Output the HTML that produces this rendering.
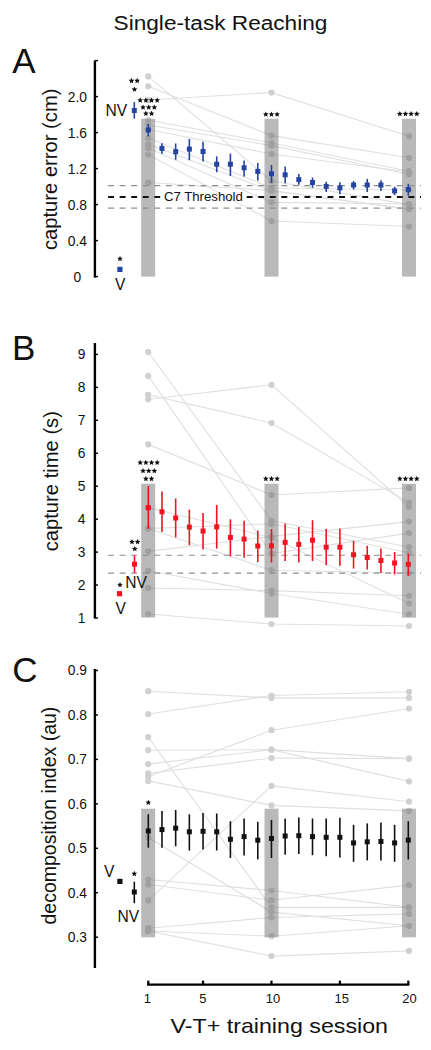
<!DOCTYPE html>
<html><head><meta charset="utf-8"><title>Single-task Reaching</title>
<style>
html,body{margin:0;padding:0;background:#fff;}
svg{display:block;}
text{font-family:"Liberation Sans",sans-serif;fill:#111;}
.ttl{font-size:20px;}
.pl{font-size:35px;}
.tk{font-size:13.8px;}
.yl{font-size:20px;}
.thr{font-size:13.2px;}
.nv{font-size:15.6px;}
.xt{font-size:13px;}
.xl{font-size:21px;}
</style></head><body>
<svg width="431" height="1050" viewBox="0 0 431 1050">
<rect width="431" height="1050" fill="#fff"/>
<text x="113.6" y="29.6" class="ttl" textLength="213.8" lengthAdjust="spacingAndGlyphs">Single-task Reaching</text>
<text x="12.3" y="73.2" class="pl">A</text>
<text x="12" y="359.8" class="pl">B</text>
<text x="12.3" y="681.6" class="pl">C</text>
<g stroke="#e0e0e0" stroke-width="1.15" fill="none"><polyline points="148.20,76.4 271.50,181 409.00,204.6"/><polyline points="148.20,86.3 271.50,135.6 409.00,157.8"/><polyline points="148.20,100 271.50,92.6 409.00,136.2"/><polyline points="148.20,120 271.50,143 409.00,171.2"/><polyline points="148.20,125 271.50,145.6 409.00,174.2"/><polyline points="148.20,129.5 271.50,154 409.00,172"/><polyline points="148.20,138 271.50,188 409.00,190"/><polyline points="148.20,144.3 271.50,191 409.00,209.2"/><polyline points="148.20,148 271.50,202.4 409.00,204"/><polyline points="148.20,154.6 271.50,221 409.00,226.5"/><polyline points="148.20,182.5 271.50,190.5 409.00,209"/></g><g fill="#d0d0d0"><circle cx="148.20" cy="76.4" r="3.1"/><circle cx="271.50" cy="181" r="3.1"/><circle cx="409.00" cy="204.6" r="3.1"/><circle cx="148.20" cy="86.3" r="3.1"/><circle cx="271.50" cy="135.6" r="3.1"/><circle cx="409.00" cy="157.8" r="3.1"/><circle cx="148.20" cy="100" r="3.1"/><circle cx="271.50" cy="92.6" r="3.1"/><circle cx="409.00" cy="136.2" r="3.1"/><circle cx="148.20" cy="120" r="3.1"/><circle cx="271.50" cy="143" r="3.1"/><circle cx="409.00" cy="171.2" r="3.1"/><circle cx="148.20" cy="125" r="3.1"/><circle cx="271.50" cy="145.6" r="3.1"/><circle cx="409.00" cy="174.2" r="3.1"/><circle cx="148.20" cy="129.5" r="3.1"/><circle cx="271.50" cy="154" r="3.1"/><circle cx="409.00" cy="172" r="3.1"/><circle cx="148.20" cy="138" r="3.1"/><circle cx="271.50" cy="188" r="3.1"/><circle cx="409.00" cy="190" r="3.1"/><circle cx="148.20" cy="144.3" r="3.1"/><circle cx="271.50" cy="191" r="3.1"/><circle cx="409.00" cy="209.2" r="3.1"/><circle cx="148.20" cy="148" r="3.1"/><circle cx="271.50" cy="202.4" r="3.1"/><circle cx="409.00" cy="204" r="3.1"/><circle cx="148.20" cy="154.6" r="3.1"/><circle cx="271.50" cy="221" r="3.1"/><circle cx="409.00" cy="226.5" r="3.1"/><circle cx="148.20" cy="182.5" r="3.1"/><circle cx="271.50" cy="190.5" r="3.1"/><circle cx="409.00" cy="209" r="3.1"/></g><g fill="#6a6a6a" fill-opacity="0.47"><rect x="141.20" y="118.7" width="14" height="157.90000000000003"/><rect x="264.50" y="118.7" width="14" height="157.90000000000003"/><rect x="402.00" y="118.7" width="14" height="157.90000000000003"/></g>
<line x1="94.9" y1="60.6" x2="94.9" y2="277.6" stroke="#000" stroke-width="2.4"/><line x1="94.9" y1="96.60" x2="98" y2="96.60" stroke="#000" stroke-width="1.4"/><line x1="94.9" y1="132.60" x2="98" y2="132.60" stroke="#000" stroke-width="1.4"/><line x1="94.9" y1="168.60" x2="98" y2="168.60" stroke="#000" stroke-width="1.4"/><line x1="94.9" y1="204.60" x2="98" y2="204.60" stroke="#000" stroke-width="1.4"/><line x1="94.9" y1="240.60" x2="98" y2="240.60" stroke="#000" stroke-width="1.4"/><line x1="94.9" y1="276.60" x2="98" y2="276.60" stroke="#000" stroke-width="1.4"/><line x1="94.9" y1="60.60" x2="98" y2="60.60" stroke="#000" stroke-width="1.4"/><text x="77.4" y="101.50" text-anchor="middle" class="tk">2.0</text><text x="77.4" y="137.50" text-anchor="middle" class="tk">1.6</text><text x="77.4" y="173.50" text-anchor="middle" class="tk">1.2</text><text x="77.4" y="209.50" text-anchor="middle" class="tk">0.8</text><text x="77.4" y="245.50" text-anchor="middle" class="tk">0.4</text><text x="77.4" y="281.50" text-anchor="middle" class="tk">0</text>
<text transform="translate(56.8,169.3) rotate(-90)" text-anchor="middle" class="yl" style="font-size:20.2px">capture error (cm)</text>
<line x1="108.1" y1="185.6" x2="421" y2="185.6" stroke="#8e8e8e" stroke-width="1.05" stroke-dasharray="5.9,5.65"/>
<line x1="108.1" y1="208.1" x2="421" y2="208.1" stroke="#8e8e8e" stroke-width="1.05" stroke-dasharray="5.9,5.65"/>
<line x1="108.1" y1="196.9" x2="160.2" y2="196.9" stroke="#111" stroke-width="2" stroke-dasharray="5.9,5.65"/>
<line x1="246.7" y1="196.9" x2="421" y2="196.9" stroke="#111" stroke-width="2" stroke-dasharray="5.9,5.65"/>
<text x="163.9" y="201.3" class="thr">C7 Threshold</text>
<line x1="148.30" y1="124.00" x2="148.30" y2="136.30" stroke="#2444a0" stroke-width="1.6"/><rect x="145.80" y="127.50" width="5" height="5" fill="#2444a0"/>
<line x1="161.98" y1="143.30" x2="161.98" y2="153.70" stroke="#2444a0" stroke-width="1.6"/><rect x="159.48" y="145.90" width="5" height="5" fill="#2444a0"/>
<line x1="175.67" y1="143.50" x2="175.67" y2="159.70" stroke="#2444a0" stroke-width="1.6"/><rect x="173.17" y="149.20" width="5" height="5" fill="#2444a0"/>
<line x1="189.35" y1="139.00" x2="189.35" y2="160.20" stroke="#2444a0" stroke-width="1.6"/><rect x="186.85" y="146.60" width="5" height="5" fill="#2444a0"/>
<line x1="203.04" y1="141.70" x2="203.04" y2="161.50" stroke="#2444a0" stroke-width="1.6"/><rect x="200.54" y="149.00" width="5" height="5" fill="#2444a0"/>
<line x1="216.72" y1="156.40" x2="216.72" y2="172.30" stroke="#2444a0" stroke-width="1.6"/><rect x="214.22" y="161.70" width="5" height="5" fill="#2444a0"/>
<line x1="230.40" y1="153.70" x2="230.40" y2="175.90" stroke="#2444a0" stroke-width="1.6"/><rect x="227.90" y="161.70" width="5" height="5" fill="#2444a0"/>
<line x1="244.09" y1="160.60" x2="244.09" y2="176.50" stroke="#2444a0" stroke-width="1.6"/><rect x="241.59" y="165.30" width="5" height="5" fill="#2444a0"/>
<line x1="257.77" y1="163.00" x2="257.77" y2="180.70" stroke="#2444a0" stroke-width="1.6"/><rect x="255.27" y="168.90" width="5" height="5" fill="#2444a0"/>
<line x1="271.46" y1="165.00" x2="271.46" y2="182.90" stroke="#2444a0" stroke-width="1.6"/><rect x="268.96" y="171.30" width="5" height="5" fill="#2444a0"/>
<line x1="285.14" y1="166.50" x2="285.14" y2="183.30" stroke="#2444a0" stroke-width="1.6"/><rect x="282.64" y="172.30" width="5" height="5" fill="#2444a0"/>
<line x1="298.82" y1="174.00" x2="298.82" y2="184.80" stroke="#2444a0" stroke-width="1.6"/><rect x="296.32" y="177.10" width="5" height="5" fill="#2444a0"/>
<line x1="312.51" y1="177.50" x2="312.51" y2="187.80" stroke="#2444a0" stroke-width="1.6"/><rect x="310.01" y="180.00" width="5" height="5" fill="#2444a0"/>
<line x1="326.19" y1="181.70" x2="326.19" y2="192.00" stroke="#2444a0" stroke-width="1.6"/><rect x="323.69" y="183.90" width="5" height="5" fill="#2444a0"/>
<line x1="339.88" y1="182.30" x2="339.88" y2="194.20" stroke="#2444a0" stroke-width="1.6"/><rect x="337.38" y="185.30" width="5" height="5" fill="#2444a0"/>
<line x1="353.56" y1="181.10" x2="353.56" y2="189.50" stroke="#2444a0" stroke-width="1.6"/><rect x="351.06" y="182.50" width="5" height="5" fill="#2444a0"/>
<line x1="367.24" y1="178.90" x2="367.24" y2="192.00" stroke="#2444a0" stroke-width="1.6"/><rect x="364.74" y="182.50" width="5" height="5" fill="#2444a0"/>
<line x1="380.93" y1="180.30" x2="380.93" y2="190.90" stroke="#2444a0" stroke-width="1.6"/><rect x="378.43" y="182.50" width="5" height="5" fill="#2444a0"/>
<line x1="394.61" y1="186.70" x2="394.61" y2="195.10" stroke="#2444a0" stroke-width="1.6"/><rect x="392.11" y="188.40" width="5" height="5" fill="#2444a0"/>
<line x1="408.30" y1="183.90" x2="408.30" y2="195.60" stroke="#2444a0" stroke-width="1.6"/><rect x="405.80" y="187.00" width="5" height="5" fill="#2444a0"/>
<line x1="134.30" y1="102.10" x2="134.30" y2="118.60" stroke="#2444a0" stroke-width="1.6"/><rect x="131.80" y="108.00" width="5" height="5" fill="#2444a0"/>
<rect x="117.30000000000001" y="266.79999999999995" width="5.2" height="5.2" fill="#2444a0"/>
<g fill="#111"><polygon points="131.48,77.80 132.29,79.63 134.28,79.84 132.79,81.18 133.21,83.14 131.48,82.14 129.74,83.14 130.16,81.18 128.67,79.84 130.66,79.63"/><polygon points="137.13,77.80 137.94,79.63 139.93,79.84 138.44,81.18 138.86,83.14 137.13,82.14 135.39,83.14 135.81,81.18 134.32,79.84 136.31,79.63"/><polygon points="134.50,86.50 135.31,88.33 137.31,88.54 135.82,89.88 136.23,91.84 134.50,90.84 132.77,91.84 133.18,89.88 131.69,88.54 133.69,88.33"/><polygon points="140.22,97.30 141.04,99.13 143.03,99.34 141.54,100.68 141.96,102.64 140.22,101.64 138.49,102.64 138.91,100.68 137.42,99.34 139.41,99.13"/><polygon points="145.88,97.30 146.69,99.13 148.68,99.34 147.19,100.68 147.61,102.64 145.88,101.64 144.14,102.64 144.56,100.68 143.07,99.34 145.06,99.13"/><polygon points="151.53,97.30 152.34,99.13 154.33,99.34 152.84,100.68 153.26,102.64 151.53,101.64 149.79,102.64 150.21,100.68 148.72,99.34 150.71,99.13"/><polygon points="157.18,97.30 157.99,99.13 159.98,99.34 158.49,100.68 158.91,102.64 157.18,101.64 155.44,102.64 155.86,100.68 154.37,99.34 156.36,99.13"/><polygon points="143.05,104.40 143.86,106.23 145.86,106.44 144.37,107.78 144.78,109.74 143.05,108.74 141.32,109.74 141.73,107.78 140.24,106.44 142.24,106.23"/><polygon points="148.70,104.40 149.51,106.23 151.51,106.44 150.02,107.78 150.43,109.74 148.70,108.74 146.97,109.74 147.38,107.78 145.89,106.44 147.89,106.23"/><polygon points="154.35,104.40 155.16,106.23 157.16,106.44 155.67,107.78 156.08,109.74 154.35,108.74 152.62,109.74 153.03,107.78 151.54,106.44 153.54,106.23"/><polygon points="145.88,110.60 146.69,112.43 148.68,112.64 147.19,113.98 147.61,115.94 145.88,114.94 144.14,115.94 144.56,113.98 143.07,112.64 145.06,112.43"/><polygon points="151.53,110.60 152.34,112.43 154.33,112.64 152.84,113.98 153.26,115.94 151.53,114.94 149.79,115.94 150.21,113.98 148.72,112.64 150.71,112.43"/><polygon points="120.00,255.80 120.81,257.63 122.81,257.84 121.32,259.18 121.73,261.14 120.00,260.14 118.27,261.14 118.68,259.18 117.19,257.84 119.19,257.63"/><polygon points="265.81,111.40 266.62,113.23 268.61,113.44 267.12,114.78 267.54,116.74 265.81,115.74 264.07,116.74 264.49,114.78 263.00,113.44 264.99,113.23"/><polygon points="271.46,111.40 272.27,113.23 274.26,113.44 272.77,114.78 273.19,116.74 271.46,115.74 269.72,116.74 270.14,114.78 268.65,113.44 270.64,113.23"/><polygon points="277.11,111.40 277.92,113.23 279.91,113.44 278.42,114.78 278.84,116.74 277.11,115.74 275.37,116.74 275.79,114.78 274.30,113.44 276.29,113.23"/><polygon points="399.82,111.00 400.64,112.83 402.63,113.04 401.14,114.38 401.55,116.34 399.82,115.34 398.09,116.34 398.50,114.38 397.02,113.04 399.01,112.83"/><polygon points="405.47,111.00 406.29,112.83 408.28,113.04 406.79,114.38 407.20,116.34 405.47,115.34 403.74,116.34 404.15,114.38 402.67,113.04 404.66,112.83"/><polygon points="411.12,111.00 411.94,112.83 413.93,113.04 412.44,114.38 412.85,116.34 411.12,115.34 409.39,116.34 409.80,114.38 408.32,113.04 410.31,112.83"/><polygon points="416.77,111.00 417.59,112.83 419.58,113.04 418.09,114.38 418.50,116.34 416.77,115.34 415.04,116.34 415.45,114.38 413.97,113.04 415.96,112.83"/></g>
<text x="105.6" y="116" class="nv">NV</text>
<text x="115" y="290" class="nv">V</text>
<g stroke="#e0e0e0" stroke-width="1.15" fill="none"><polyline points="148.20,352 271.50,520.7 409.00,547"/><polyline points="148.20,375.9 271.50,553.6 409.00,533.1"/><polyline points="148.20,399.3 271.50,384.8 409.00,507"/><polyline points="148.20,394.8 271.50,423 409.00,502.8"/><polyline points="148.20,444.4 271.50,495 409.00,487.9"/><polyline points="148.20,507.6 271.50,537.5 409.00,603.4"/><polyline points="148.20,528.5 271.50,523.8 409.00,552.8"/><polyline points="148.20,528.5 271.50,570.2 409.00,573"/><polyline points="148.20,551.4 271.50,536.4 409.00,521.6"/><polyline points="148.20,570.8 271.50,593.5 409.00,614.2"/><polyline points="148.20,588 271.50,590.6 409.00,595.8"/><polyline points="148.20,614 271.50,624 409.00,626"/></g><g fill="#d0d0d0"><circle cx="148.20" cy="352" r="3.1"/><circle cx="271.50" cy="520.7" r="3.1"/><circle cx="409.00" cy="547" r="3.1"/><circle cx="148.20" cy="375.9" r="3.1"/><circle cx="271.50" cy="553.6" r="3.1"/><circle cx="409.00" cy="533.1" r="3.1"/><circle cx="148.20" cy="399.3" r="3.1"/><circle cx="271.50" cy="384.8" r="3.1"/><circle cx="409.00" cy="507" r="3.1"/><circle cx="148.20" cy="394.8" r="3.1"/><circle cx="271.50" cy="423" r="3.1"/><circle cx="409.00" cy="502.8" r="3.1"/><circle cx="148.20" cy="444.4" r="3.1"/><circle cx="271.50" cy="495" r="3.1"/><circle cx="409.00" cy="487.9" r="3.1"/><circle cx="148.20" cy="507.6" r="3.1"/><circle cx="271.50" cy="537.5" r="3.1"/><circle cx="409.00" cy="603.4" r="3.1"/><circle cx="148.20" cy="528.5" r="3.1"/><circle cx="271.50" cy="523.8" r="3.1"/><circle cx="409.00" cy="552.8" r="3.1"/><circle cx="148.20" cy="528.5" r="3.1"/><circle cx="271.50" cy="570.2" r="3.1"/><circle cx="409.00" cy="573" r="3.1"/><circle cx="148.20" cy="551.4" r="3.1"/><circle cx="271.50" cy="536.4" r="3.1"/><circle cx="409.00" cy="521.6" r="3.1"/><circle cx="148.20" cy="570.8" r="3.1"/><circle cx="271.50" cy="593.5" r="3.1"/><circle cx="409.00" cy="614.2" r="3.1"/><circle cx="148.20" cy="588" r="3.1"/><circle cx="271.50" cy="590.6" r="3.1"/><circle cx="409.00" cy="595.8" r="3.1"/><circle cx="148.20" cy="614" r="3.1"/><circle cx="271.50" cy="624" r="3.1"/><circle cx="409.00" cy="626" r="3.1"/></g><g fill="#6a6a6a" fill-opacity="0.47"><rect x="141.20" y="483.7" width="14" height="133.90000000000003"/><rect x="264.50" y="483.7" width="14" height="133.90000000000003"/><rect x="402.00" y="483.7" width="14" height="133.90000000000003"/></g>
<line x1="94.9" y1="342.9" x2="94.9" y2="618.6" stroke="#000" stroke-width="2.4"/><line x1="94.9" y1="354.40" x2="98" y2="354.40" stroke="#000" stroke-width="1.4"/><line x1="94.9" y1="387.35" x2="98" y2="387.35" stroke="#000" stroke-width="1.4"/><line x1="94.9" y1="420.30" x2="98" y2="420.30" stroke="#000" stroke-width="1.4"/><line x1="94.9" y1="453.25" x2="98" y2="453.25" stroke="#000" stroke-width="1.4"/><line x1="94.9" y1="486.20" x2="98" y2="486.20" stroke="#000" stroke-width="1.4"/><line x1="94.9" y1="519.15" x2="98" y2="519.15" stroke="#000" stroke-width="1.4"/><line x1="94.9" y1="552.10" x2="98" y2="552.10" stroke="#000" stroke-width="1.4"/><line x1="94.9" y1="585.05" x2="98" y2="585.05" stroke="#000" stroke-width="1.4"/><line x1="94.9" y1="618.00" x2="98" y2="618.00" stroke="#000" stroke-width="1.4"/><text x="81.7" y="359.30" text-anchor="middle" class="tk">9</text><text x="81.7" y="392.25" text-anchor="middle" class="tk">8</text><text x="81.7" y="425.20" text-anchor="middle" class="tk">7</text><text x="81.7" y="458.15" text-anchor="middle" class="tk">6</text><text x="81.7" y="491.10" text-anchor="middle" class="tk">5</text><text x="81.7" y="524.05" text-anchor="middle" class="tk">4</text><text x="81.7" y="557.00" text-anchor="middle" class="tk">3</text><text x="81.7" y="589.95" text-anchor="middle" class="tk">2</text><text x="81.7" y="622.90" text-anchor="middle" class="tk">1</text>
<text transform="translate(57.5,481.2) rotate(-90)" text-anchor="middle" class="yl" style="font-size:20.2px">capture time (s)</text>
<line x1="108.1" y1="555.2" x2="421" y2="555.2" stroke="#8e8e8e" stroke-width="1.05" stroke-dasharray="5.9,5.65"/>
<line x1="108.1" y1="573.1" x2="421" y2="573.1" stroke="#8e8e8e" stroke-width="1.05" stroke-dasharray="5.9,5.65"/>
<line x1="148.30" y1="486.00" x2="148.30" y2="529.00" stroke="#ee1520" stroke-width="1.6"/><rect x="145.80" y="505.10" width="5" height="5" fill="#ee1520"/>
<line x1="161.98" y1="491.50" x2="161.98" y2="531.90" stroke="#ee1520" stroke-width="1.6"/><rect x="159.48" y="509.30" width="5" height="5" fill="#ee1520"/>
<line x1="175.67" y1="498.50" x2="175.67" y2="537.40" stroke="#ee1520" stroke-width="1.6"/><rect x="173.17" y="515.50" width="5" height="5" fill="#ee1520"/>
<line x1="189.35" y1="509.60" x2="189.35" y2="545.20" stroke="#ee1520" stroke-width="1.6"/><rect x="186.85" y="524.60" width="5" height="5" fill="#ee1520"/>
<line x1="203.04" y1="513.00" x2="203.04" y2="549.40" stroke="#ee1520" stroke-width="1.6"/><rect x="200.54" y="528.50" width="5" height="5" fill="#ee1520"/>
<line x1="216.72" y1="504.90" x2="216.72" y2="548.60" stroke="#ee1520" stroke-width="1.6"/><rect x="214.22" y="524.40" width="5" height="5" fill="#ee1520"/>
<line x1="230.40" y1="519.30" x2="230.40" y2="556.40" stroke="#ee1520" stroke-width="1.6"/><rect x="227.90" y="534.90" width="5" height="5" fill="#ee1520"/>
<line x1="244.09" y1="520.70" x2="244.09" y2="557.80" stroke="#ee1520" stroke-width="1.6"/><rect x="241.59" y="536.60" width="5" height="5" fill="#ee1520"/>
<line x1="257.77" y1="530.50" x2="257.77" y2="562.00" stroke="#ee1520" stroke-width="1.6"/><rect x="255.27" y="543.50" width="5" height="5" fill="#ee1520"/>
<line x1="271.46" y1="529.00" x2="271.46" y2="562.50" stroke="#ee1520" stroke-width="1.6"/><rect x="268.96" y="543.30" width="5" height="5" fill="#ee1520"/>
<line x1="285.14" y1="523.50" x2="285.14" y2="561.10" stroke="#ee1520" stroke-width="1.6"/><rect x="282.64" y="539.90" width="5" height="5" fill="#ee1520"/>
<line x1="298.82" y1="527.00" x2="298.82" y2="562.50" stroke="#ee1520" stroke-width="1.6"/><rect x="296.32" y="541.90" width="5" height="5" fill="#ee1520"/>
<line x1="312.51" y1="520.20" x2="312.51" y2="561.10" stroke="#ee1520" stroke-width="1.6"/><rect x="310.01" y="537.70" width="5" height="5" fill="#ee1520"/>
<line x1="326.19" y1="529.00" x2="326.19" y2="565.30" stroke="#ee1520" stroke-width="1.6"/><rect x="323.69" y="544.70" width="5" height="5" fill="#ee1520"/>
<line x1="339.88" y1="528.50" x2="339.88" y2="565.80" stroke="#ee1520" stroke-width="1.6"/><rect x="337.38" y="544.70" width="5" height="5" fill="#ee1520"/>
<line x1="353.56" y1="540.80" x2="353.56" y2="568.60" stroke="#ee1520" stroke-width="1.6"/><rect x="351.06" y="552.20" width="5" height="5" fill="#ee1520"/>
<line x1="367.24" y1="545.80" x2="367.24" y2="569.50" stroke="#ee1520" stroke-width="1.6"/><rect x="364.74" y="555.00" width="5" height="5" fill="#ee1520"/>
<line x1="380.93" y1="548.60" x2="380.93" y2="573.00" stroke="#ee1520" stroke-width="1.6"/><rect x="378.43" y="558.00" width="5" height="5" fill="#ee1520"/>
<line x1="394.61" y1="552.00" x2="394.61" y2="574.50" stroke="#ee1520" stroke-width="1.6"/><rect x="392.11" y="560.50" width="5" height="5" fill="#ee1520"/>
<line x1="408.30" y1="553.60" x2="408.30" y2="575.90" stroke="#ee1520" stroke-width="1.6"/><rect x="405.80" y="561.90" width="5" height="5" fill="#ee1520"/>
<line x1="134.50" y1="555.30" x2="134.50" y2="572.90" stroke="#ee1520" stroke-width="1.6"/><rect x="132.00" y="561.70" width="5" height="5" fill="#ee1520"/>
<rect x="116.9" y="591.1" width="5.2" height="5.2" fill="#ee1520"/>
<g fill="#111"><polygon points="140.22,459.70 141.04,461.53 143.03,461.74 141.54,463.08 141.96,465.04 140.22,464.04 138.49,465.04 138.91,463.08 137.42,461.74 139.41,461.53"/><polygon points="145.88,459.70 146.69,461.53 148.68,461.74 147.19,463.08 147.61,465.04 145.88,464.04 144.14,465.04 144.56,463.08 143.07,461.74 145.06,461.53"/><polygon points="151.53,459.70 152.34,461.53 154.33,461.74 152.84,463.08 153.26,465.04 151.53,464.04 149.79,465.04 150.21,463.08 148.72,461.74 150.71,461.53"/><polygon points="157.18,459.70 157.99,461.53 159.98,461.74 158.49,463.08 158.91,465.04 157.18,464.04 155.44,465.04 155.86,463.08 154.37,461.74 156.36,461.53"/><polygon points="143.05,468.00 143.86,469.83 145.86,470.04 144.37,471.38 144.78,473.34 143.05,472.34 141.32,473.34 141.73,471.38 140.24,470.04 142.24,469.83"/><polygon points="148.70,468.00 149.51,469.83 151.51,470.04 150.02,471.38 150.43,473.34 148.70,472.34 146.97,473.34 147.38,471.38 145.89,470.04 147.89,469.83"/><polygon points="154.35,468.00 155.16,469.83 157.16,470.04 155.67,471.38 156.08,473.34 154.35,472.34 152.62,473.34 153.03,471.38 151.54,470.04 153.54,469.83"/><polygon points="145.88,475.80 146.69,477.63 148.68,477.84 147.19,479.18 147.61,481.14 145.88,480.14 144.14,481.14 144.56,479.18 143.07,477.84 145.06,477.63"/><polygon points="151.53,475.80 152.34,477.63 154.33,477.84 152.84,479.18 153.26,481.14 151.53,480.14 149.79,481.14 150.21,479.18 148.72,477.84 150.71,477.63"/><polygon points="131.98,539.00 132.79,540.83 134.78,541.04 133.29,542.38 133.71,544.34 131.98,543.34 130.24,544.34 130.66,542.38 129.17,541.04 131.16,540.83"/><polygon points="137.63,539.00 138.44,540.83 140.43,541.04 138.94,542.38 139.36,544.34 137.63,543.34 135.89,544.34 136.31,542.38 134.82,541.04 136.81,540.83"/><polygon points="134.80,546.00 135.61,547.83 137.61,548.04 136.12,549.38 136.53,551.34 134.80,550.34 133.07,551.34 133.48,549.38 131.99,548.04 133.99,547.83"/><polygon points="120.00,581.90 120.81,583.73 122.81,583.94 121.32,585.28 121.73,587.24 120.00,586.24 118.27,587.24 118.68,585.28 117.19,583.94 119.19,583.73"/><polygon points="265.81,475.80 266.62,477.63 268.61,477.84 267.12,479.18 267.54,481.14 265.81,480.14 264.07,481.14 264.49,479.18 263.00,477.84 264.99,477.63"/><polygon points="271.46,475.80 272.27,477.63 274.26,477.84 272.77,479.18 273.19,481.14 271.46,480.14 269.72,481.14 270.14,479.18 268.65,477.84 270.64,477.63"/><polygon points="277.11,475.80 277.92,477.63 279.91,477.84 278.42,479.18 278.84,481.14 277.11,480.14 275.37,481.14 275.79,479.18 274.30,477.84 276.29,477.63"/><polygon points="399.82,475.80 400.64,477.63 402.63,477.84 401.14,479.18 401.55,481.14 399.82,480.14 398.09,481.14 398.50,479.18 397.02,477.84 399.01,477.63"/><polygon points="405.47,475.80 406.29,477.63 408.28,477.84 406.79,479.18 407.20,481.14 405.47,480.14 403.74,481.14 404.15,479.18 402.67,477.84 404.66,477.63"/><polygon points="411.12,475.80 411.94,477.63 413.93,477.84 412.44,479.18 412.85,481.14 411.12,480.14 409.39,481.14 409.80,479.18 408.32,477.84 410.31,477.63"/><polygon points="416.77,475.80 417.59,477.63 419.58,477.84 418.09,479.18 418.50,481.14 416.77,480.14 415.04,481.14 415.45,479.18 413.97,477.84 415.96,477.63"/></g>
<text x="125.3" y="588" class="nv">NV</text>
<text x="115.6" y="613.8" class="nv">V</text>
<g stroke="#e0e0e0" stroke-width="1.15" fill="none"><polyline points="148.20,691.2 271.50,697.9 409.00,697.9"/><polyline points="148.20,714 271.50,695.5 409.00,691.8"/><polyline points="148.20,737.1 271.50,907.4 409.00,907.4"/><polyline points="148.20,750.2 271.50,749.7 409.00,758.6"/><polyline points="148.20,764.1 271.50,749.7 409.00,781.4"/><polyline points="148.20,773.4 271.50,758 409.00,758.6"/><polyline points="148.20,776.7 271.50,730.2 409.00,708.5"/><polyline points="148.20,780.9 271.50,805.4 409.00,810.9"/><polyline points="148.20,837.4 271.50,912.1 409.00,925.8"/><polyline points="148.20,879.5 271.50,890.5 409.00,907.4"/><polyline points="148.20,884.5 271.50,900.2 409.00,885.1"/><polyline points="148.20,900.4 271.50,785.9 409.00,801.7"/><polyline points="148.20,928.2 271.50,917.5 409.00,913.9"/><polyline points="148.20,931 271.50,956.1 409.00,950.9"/><polyline points="148.20,931 271.50,936.2 409.00,925.8"/></g><g fill="#d0d0d0"><circle cx="148.20" cy="691.2" r="3.1"/><circle cx="271.50" cy="697.9" r="3.1"/><circle cx="409.00" cy="697.9" r="3.1"/><circle cx="148.20" cy="714" r="3.1"/><circle cx="271.50" cy="695.5" r="3.1"/><circle cx="409.00" cy="691.8" r="3.1"/><circle cx="148.20" cy="737.1" r="3.1"/><circle cx="271.50" cy="907.4" r="3.1"/><circle cx="409.00" cy="907.4" r="3.1"/><circle cx="148.20" cy="750.2" r="3.1"/><circle cx="271.50" cy="749.7" r="3.1"/><circle cx="409.00" cy="758.6" r="3.1"/><circle cx="148.20" cy="764.1" r="3.1"/><circle cx="271.50" cy="749.7" r="3.1"/><circle cx="409.00" cy="781.4" r="3.1"/><circle cx="148.20" cy="773.4" r="3.1"/><circle cx="271.50" cy="758" r="3.1"/><circle cx="409.00" cy="758.6" r="3.1"/><circle cx="148.20" cy="776.7" r="3.1"/><circle cx="271.50" cy="730.2" r="3.1"/><circle cx="409.00" cy="708.5" r="3.1"/><circle cx="148.20" cy="780.9" r="3.1"/><circle cx="271.50" cy="805.4" r="3.1"/><circle cx="409.00" cy="810.9" r="3.1"/><circle cx="148.20" cy="837.4" r="3.1"/><circle cx="271.50" cy="912.1" r="3.1"/><circle cx="409.00" cy="925.8" r="3.1"/><circle cx="148.20" cy="879.5" r="3.1"/><circle cx="271.50" cy="890.5" r="3.1"/><circle cx="409.00" cy="907.4" r="3.1"/><circle cx="148.20" cy="884.5" r="3.1"/><circle cx="271.50" cy="900.2" r="3.1"/><circle cx="409.00" cy="885.1" r="3.1"/><circle cx="148.20" cy="900.4" r="3.1"/><circle cx="271.50" cy="785.9" r="3.1"/><circle cx="409.00" cy="801.7" r="3.1"/><circle cx="148.20" cy="928.2" r="3.1"/><circle cx="271.50" cy="917.5" r="3.1"/><circle cx="409.00" cy="913.9" r="3.1"/><circle cx="148.20" cy="931" r="3.1"/><circle cx="271.50" cy="956.1" r="3.1"/><circle cx="409.00" cy="950.9" r="3.1"/><circle cx="148.20" cy="931" r="3.1"/><circle cx="271.50" cy="936.2" r="3.1"/><circle cx="409.00" cy="925.8" r="3.1"/></g><g fill="#6a6a6a" fill-opacity="0.47"><rect x="141.20" y="808.7" width="14" height="128.5999999999999"/><rect x="264.50" y="808.7" width="14" height="128.5999999999999"/><rect x="402.00" y="808.7" width="14" height="128.5999999999999"/></g>
<line x1="94.9" y1="669.1" x2="94.9" y2="968" stroke="#000" stroke-width="2.4"/>
<line x1="94.9" y1="670.50" x2="98" y2="670.50" stroke="#000" stroke-width="1.4"/>
<text x="87" y="675.40" text-anchor="end" class="tk">0.9</text>
<line x1="94.9" y1="714.95" x2="98" y2="714.95" stroke="#000" stroke-width="1.4"/>
<text x="87" y="719.85" text-anchor="end" class="tk">0.8</text>
<line x1="94.9" y1="759.40" x2="98" y2="759.40" stroke="#000" stroke-width="1.4"/>
<text x="87" y="764.30" text-anchor="end" class="tk">0.7</text>
<line x1="94.9" y1="803.85" x2="98" y2="803.85" stroke="#000" stroke-width="1.4"/>
<text x="87" y="808.75" text-anchor="end" class="tk">0.6</text>
<line x1="94.9" y1="848.30" x2="98" y2="848.30" stroke="#000" stroke-width="1.4"/>
<text x="87" y="853.20" text-anchor="end" class="tk">0.5</text>
<line x1="94.9" y1="892.75" x2="98" y2="892.75" stroke="#000" stroke-width="1.4"/>
<text x="87" y="897.65" text-anchor="end" class="tk">0.4</text>
<line x1="94.9" y1="937.20" x2="98" y2="937.20" stroke="#000" stroke-width="1.4"/>
<text x="87" y="942.10" text-anchor="end" class="tk">0.3</text>
<text transform="translate(56,815.6) rotate(-90)" text-anchor="middle" class="yl" style="font-size:19.5px">decomposition index (au)</text>
<line x1="148.30" y1="814.30" x2="148.30" y2="847.70" stroke="#111" stroke-width="1.6"/><rect x="145.80" y="828.50" width="5" height="5" fill="#111"/>
<line x1="161.98" y1="811.00" x2="161.98" y2="847.70" stroke="#111" stroke-width="1.6"/><rect x="159.48" y="827.10" width="5" height="5" fill="#111"/>
<line x1="175.67" y1="810.00" x2="175.67" y2="846.30" stroke="#111" stroke-width="1.6"/><rect x="173.17" y="825.70" width="5" height="5" fill="#111"/>
<line x1="189.35" y1="814.30" x2="189.35" y2="850.50" stroke="#111" stroke-width="1.6"/><rect x="186.85" y="829.30" width="5" height="5" fill="#111"/>
<line x1="203.04" y1="813.00" x2="203.04" y2="849.60" stroke="#111" stroke-width="1.6"/><rect x="200.54" y="828.80" width="5" height="5" fill="#111"/>
<line x1="216.72" y1="813.50" x2="216.72" y2="850.50" stroke="#111" stroke-width="1.6"/><rect x="214.22" y="829.30" width="5" height="5" fill="#111"/>
<line x1="230.40" y1="821.20" x2="230.40" y2="858.00" stroke="#111" stroke-width="1.6"/><rect x="227.90" y="836.80" width="5" height="5" fill="#111"/>
<line x1="244.09" y1="818.50" x2="244.09" y2="855.50" stroke="#111" stroke-width="1.6"/><rect x="241.59" y="834.10" width="5" height="5" fill="#111"/>
<line x1="257.77" y1="821.80" x2="257.77" y2="859.40" stroke="#111" stroke-width="1.6"/><rect x="255.27" y="837.70" width="5" height="5" fill="#111"/>
<line x1="271.46" y1="819.90" x2="271.46" y2="858.00" stroke="#111" stroke-width="1.6"/><rect x="268.96" y="836.00" width="5" height="5" fill="#111"/>
<line x1="285.14" y1="818.50" x2="285.14" y2="854.70" stroke="#111" stroke-width="1.6"/><rect x="282.64" y="833.50" width="5" height="5" fill="#111"/>
<line x1="298.82" y1="817.60" x2="298.82" y2="854.10" stroke="#111" stroke-width="1.6"/><rect x="296.32" y="833.20" width="5" height="5" fill="#111"/>
<line x1="312.51" y1="818.50" x2="312.51" y2="855.20" stroke="#111" stroke-width="1.6"/><rect x="310.01" y="834.10" width="5" height="5" fill="#111"/>
<line x1="326.19" y1="818.40" x2="326.19" y2="856.30" stroke="#111" stroke-width="1.6"/><rect x="323.69" y="834.80" width="5" height="5" fill="#111"/>
<line x1="339.88" y1="817.80" x2="339.88" y2="857.40" stroke="#111" stroke-width="1.6"/><rect x="337.38" y="834.80" width="5" height="5" fill="#111"/>
<line x1="353.56" y1="824.80" x2="353.56" y2="861.80" stroke="#111" stroke-width="1.6"/><rect x="351.06" y="840.40" width="5" height="5" fill="#111"/>
<line x1="367.24" y1="823.40" x2="367.24" y2="860.40" stroke="#111" stroke-width="1.6"/><rect x="364.74" y="839.30" width="5" height="5" fill="#111"/>
<line x1="380.93" y1="822.60" x2="380.93" y2="860.40" stroke="#111" stroke-width="1.6"/><rect x="378.43" y="839.00" width="5" height="5" fill="#111"/>
<line x1="394.61" y1="824.80" x2="394.61" y2="861.80" stroke="#111" stroke-width="1.6"/><rect x="392.11" y="840.40" width="5" height="5" fill="#111"/>
<line x1="408.30" y1="821.20" x2="408.30" y2="859.60" stroke="#111" stroke-width="1.6"/><rect x="405.80" y="837.60" width="5" height="5" fill="#111"/>
<line x1="134.30" y1="881.70" x2="134.30" y2="903.20" stroke="#111" stroke-width="1.6"/><rect x="131.80" y="889.50" width="5" height="5" fill="#111"/>
<rect x="117.30000000000001" y="878.8" width="5.2" height="5.2" fill="#111"/>
<g fill="#111"><polygon points="148.30,799.70 149.11,801.53 151.11,801.74 149.62,803.08 150.03,805.04 148.30,804.04 146.57,805.04 146.98,803.08 145.49,801.74 147.49,801.53"/><polygon points="134.30,870.80 135.11,872.63 137.11,872.84 135.62,874.18 136.03,876.14 134.30,875.14 132.57,876.14 132.98,874.18 131.49,872.84 133.49,872.63"/></g>
<text x="104" y="876.5" class="nv">V</text>
<text x="117.6" y="922" class="nv">NV</text>
<line x1="147.10" y1="984.6" x2="409.30" y2="984.6" stroke="#000" stroke-width="2.4"/>
<line x1="148.30" y1="980.6" x2="148.30" y2="985" stroke="#000" stroke-width="2.2"/>
<text x="147.3" y="1002.7" text-anchor="middle" class="xt">1</text>
<line x1="203.04" y1="980.6" x2="203.04" y2="985" stroke="#000" stroke-width="2.2"/>
<text x="202.9" y="1002.7" text-anchor="middle" class="xt">5</text>
<line x1="271.46" y1="980.6" x2="271.46" y2="985" stroke="#000" stroke-width="2.2"/>
<text x="273.1" y="1002.7" text-anchor="middle" class="xt">10</text>
<line x1="339.88" y1="980.6" x2="339.88" y2="985" stroke="#000" stroke-width="2.2"/>
<text x="341.7" y="1002.7" text-anchor="middle" class="xt">15</text>
<line x1="408.30" y1="980.6" x2="408.30" y2="985" stroke="#000" stroke-width="2.2"/>
<text x="409.6" y="1002.7" text-anchor="middle" class="xt">20</text>
<text x="170.6" y="1033" class="xl" textLength="217.4" lengthAdjust="spacingAndGlyphs">V-T+ training session</text>
</svg>
</body></html>
